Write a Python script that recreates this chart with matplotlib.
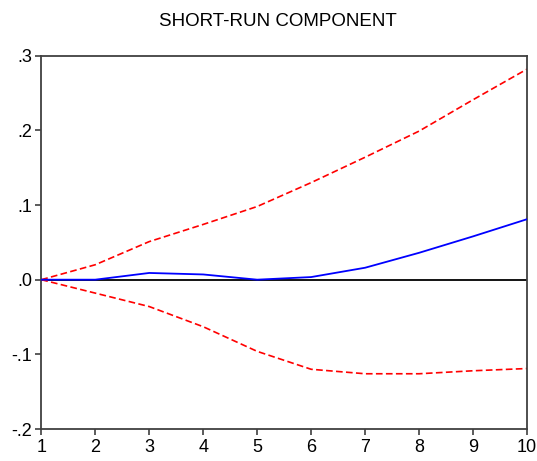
import matplotlib
matplotlib.use("Agg")
import matplotlib.pyplot as plt

plt.rcParams['font.family'] = ['Liberation Sans', 'DejaVu Sans']

periods = [1, 2, 3, 4, 5, 6, 7, 8, 9, 10]
response = [0.0, 0.0, 0.009, 0.007, 0.0, 0.0035, 0.016, 0.036, 0.058, 0.081]
upper_band = [0.0, 0.020, 0.051, 0.074, 0.098, 0.130, 0.164, 0.199, 0.241, 0.282]
lower_band = [0.0, -0.018, -0.036, -0.063, -0.096, -0.120, -0.126, -0.126, -0.122, -0.119]

y_ticks = [-0.2, -0.1, 0.0, 0.1, 0.2, 0.3]
y_tick_labels = ['-.2', '-.1', '.0', '.1', '.2', '.3']
title = 'SHORT-RUN COMPONENT'

fig = plt.figure(figsize=(5.37, 4.61), dpi=100)
ax = fig.add_axes([0.0769, 0.0694, 0.9045, 0.8098])

ax.axhline(0, color='black', lw=1.3, zorder=1)
ax.plot(periods, upper_band, color='#ff0000', lw=1.2, ls=(0, (4, 2)), zorder=2)
ax.plot(periods, lower_band, color='#ff0000', lw=1.2, ls=(0, (4, 2)), zorder=2)
ax.plot(periods, response, color='#0000ff', lw=1.3, zorder=3)

ax.set_xlim(1, 10)
ax.set_ylim(-0.2, 0.3)
ax.set_xticks(periods)
ax.set_xticklabels([str(p) for p in periods])
ax.set_yticks(y_ticks)
ax.set_yticklabels(y_tick_labels)

for side in ['left', 'right', 'top', 'bottom']:
    ax.spines[side].set_color('#404040')
    ax.spines[side].set_linewidth(1.3)

ax.tick_params(axis='y', direction='out', length=4.5, width=1.2, color='#404040',
               labelsize=13, pad=2, right=False)
ax.tick_params(axis='x', direction='out', length=4.5, width=1.2, color='#404040',
               labelsize=13, pad=3, top=False)

fig.text(277.5 / 537, 1 - 26 / 461, title, ha='center', va='baseline', fontsize=13.5)

fig.savefig('out.png', dpi=100)
